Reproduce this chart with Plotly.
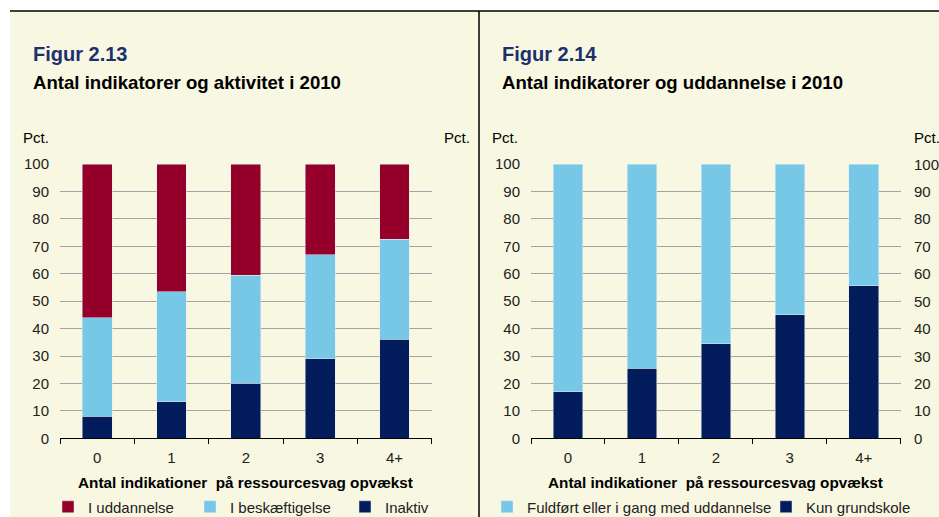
import plotly.graph_objects as go

W, H = 939, 517

categories = ["0", "1", "2", "3", "4+"]

# Figur 2.13
inaktiv = [8, 13.3, 20, 29, 36.2]
beskaeftigelse = [36, 40.2, 39.5, 38, 36.3]
uddannelse = [56, 46.5, 40.5, 33, 27.5]

# Figur 2.14
kun_grundskole = [17, 25.5, 34.4, 45, 55.7]
fuldfoert = [83, 74.5, 65.6, 55, 44.3]

y_ticks = list(range(0, 101, 10))

RED = "#95002B"
LIGHT = "#76C8E6"
NAVY = "#031C5C"
TITLE_BLUE = "#1C2F6E"
CREAM = "#F8F7E1"
GRID = "#A3A3A3"
TICK_COLOR = "#222222"
FONT = "Liberation Sans, Arial, sans-serif"


def px_x(p):
    return p / W


def px_y(p):
    return 1 - p / H


fig = go.Figure()

fig.add_trace(go.Bar(x=categories, y=inaktiv, name="Inaktiv", marker_color=NAVY,
                     xaxis="x", yaxis="y", legend="legend3"))
fig.add_trace(go.Bar(x=categories, y=beskaeftigelse, name="I beskæftigelse", marker_color=LIGHT,
                     xaxis="x", yaxis="y", legend="legend2"))
fig.add_trace(go.Bar(x=categories, y=uddannelse, name="I uddannelse", marker_color=RED,
                     xaxis="x", yaxis="y", legend="legend"))

fig.add_trace(go.Bar(x=categories, y=kun_grundskole, name="Kun grundskole", marker_color=NAVY,
                     xaxis="x2", yaxis="y2", legend="legend5"))
fig.add_trace(go.Bar(x=categories, y=fuldfoert, name="Fuldført eller i gang med uddannelse",
                     marker_color=LIGHT, xaxis="x2", yaxis="y2", legend="legend4"))

y_dom = [px_y(438.3), px_y(164)]

xcommon = dict(type="category", range=[-0.5, 4.5], showline=True, linecolor="black", linewidth=1,
               ticks="outside", tickson="boundaries", ticklen=5, tickcolor="black",
               ticklabelstandoff=6,
               showgrid=False, tickfont=dict(size=15, color=TICK_COLOR), fixedrange=True)
ycommon = dict(range=[0, 100], tickvals=y_ticks, showline=False, ticks="",
               ticklabeloverflow="allow",
               tickfont=dict(size=15, color=TICK_COLOR), zeroline=False, fixedrange=True)


def leg(text_x):
    return dict(orientation="h", x=px_x(text_x - 40), y=px_y(507),
                xanchor="left", yanchor="middle", bgcolor="rgba(0,0,0,0)",
                font=dict(size=15, color=TICK_COLOR))


fig.update_layout(
    width=W, height=H,
    margin=dict(l=0, r=0, t=0, b=0, autoexpand=False),
    paper_bgcolor="white",
    plot_bgcolor="rgba(0,0,0,0)",
    font=dict(family=FONT, size=15, color="black"),
    barmode="stack",
    bargap=0.6,
    showlegend=True,
    xaxis=dict(domain=[px_x(60), px_x(431.7)], anchor="y", **xcommon),
    yaxis=dict(domain=y_dom, anchor="x", showgrid=True, gridcolor=GRID, gridwidth=1,
               ticklabelstandoff=10, **ycommon),
    yaxis3=dict(overlaying="y", anchor="x", side="right", showgrid=False,
                ticklabelstandoff=12, **ycommon),
    xaxis2=dict(domain=[px_x(531), px_x(900.7)], anchor="y2", **xcommon),
    yaxis2=dict(domain=y_dom, anchor="x2", showgrid=True, gridcolor=GRID, gridwidth=1,
                ticklabelstandoff=10, **ycommon),
    legend=leg(88),
    legend2=leg(230),
    legend3=leg(385),
    legend4=leg(527),
    legend5=leg(806),
)

shapes = [
    dict(type="rect", xref="paper", yref="paper", x0=px_x(10), x1=1, y0=0, y1=px_y(11),
         fillcolor=CREAM, line=dict(width=0), layer="below"),
    dict(type="line", xref="paper", yref="paper", x0=px_x(10), x1=1, y0=px_y(11), y1=px_y(11),
         line=dict(color="black", width=1.5)),
    dict(type="line", xref="paper", yref="paper", x0=px_x(479), x1=px_x(479), y0=0, y1=px_y(11),
         line=dict(color="black", width=1.5)),
]
fig.update_layout(shapes=shapes)

ann = []


def text(x, y, s, size, color="black", bold=False, xanchor="left"):
    ann.append(dict(x=px_x(x), y=px_y(y), xref="paper", yref="paper", text=f"<b>{s}</b>" if bold else s,
                    showarrow=False, xanchor=xanchor, yanchor="middle",
                    font=dict(size=size, color=color, family=FONT)))


text(31, 54, "Figur 2.13", 20, TITLE_BLUE, True)
text(31, 82, "Antal indikatorer og aktivitet i 2010", 18.6, "black", True)
text(500, 54, "Figur 2.14", 20, TITLE_BLUE, True)
text(500, 82, "Antal indikatorer og uddannelse i 2010", 18.6, "black", True)

text(21, 137, "Pct.", 15, "black")
text(442, 137, "Pct.", 15, "black")
text(490, 137, "Pct.", 15, "black")
text(912, 137, "Pct.", 15, "black")

text((60 + 431.7) / 2, 482, "Antal indikationer  på ressourcesvag opvækst", 15.3, "black", True, "center")
text((531 + 900.7) / 2, 482, "Antal indikationer  på ressourcesvag opvækst", 15.3, "black", True, "center")

# right-hand value axis of the second panel (tick labels placed on the y2 scale)
for v in y_ticks:
    ann.append(dict(x=px_x(912), y=v, xref="paper", yref="y2", text=str(v), showarrow=False,
                    xanchor="left", yanchor="middle",
                    font=dict(size=15, color=TICK_COLOR, family=FONT)))

fig.update_layout(annotations=ann)

fig.write_html(
    "out.html",
    config={"displayModeBar": False},
    post_script="document.body.style.margin='0';document.body.style.overflow='hidden';",
)
